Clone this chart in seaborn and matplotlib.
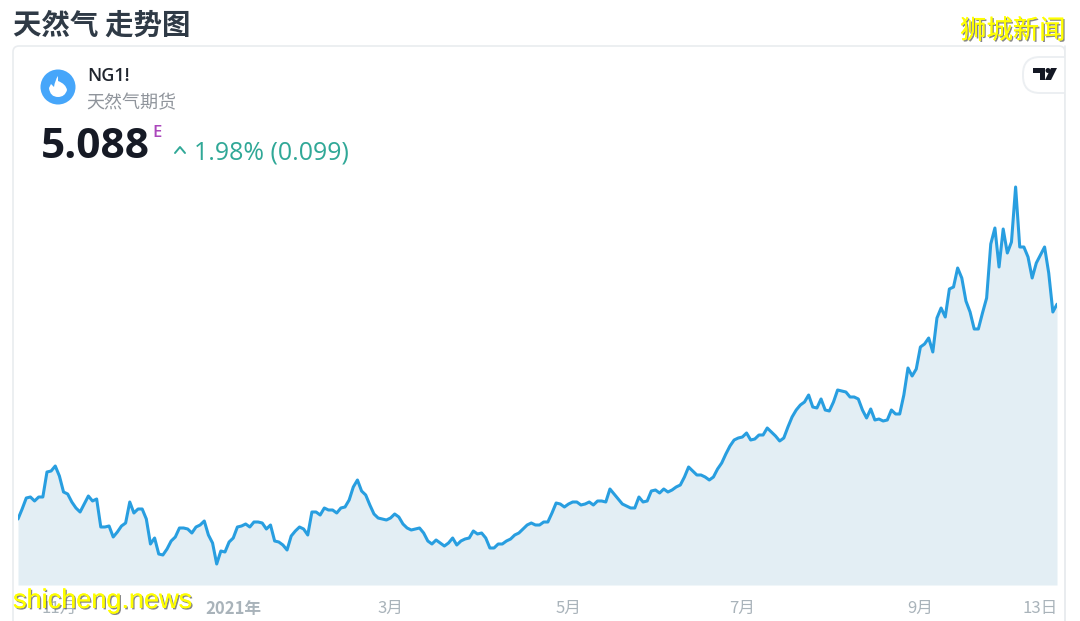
import matplotlib
matplotlib.use("Agg")

import matplotlib.pyplot as plt
import matplotlib.patheffects as pe
import numpy as np
import pandas as pd
import seaborn as sns
from matplotlib.patches import Circle, FancyBboxPatch, Polygon, PathPatch
from matplotlib.path import Path

prices = [
    2.94, 3.04, 3.15, 3.16, 3.12, 3.16, 3.16, 3.41, 3.42, 3.47,
    3.37, 3.21, 3.19, 3.11, 3.05, 3.01, 3.09, 3.17, 3.12, 3.14,
    2.86, 2.86, 2.87, 2.76, 2.81, 2.87, 2.90, 3.11, 3.00, 3.04,
    3.04, 2.94, 2.69, 2.75, 2.59, 2.58, 2.64, 2.72, 2.76, 2.85,
    2.85, 2.84, 2.80, 2.86, 2.88, 2.92, 2.78, 2.70, 2.49, 2.62,
    2.61, 2.71, 2.75, 2.86, 2.87, 2.89, 2.86, 2.91, 2.91, 2.90,
    2.84, 2.88, 2.72, 2.71, 2.68, 2.63, 2.77, 2.82, 2.86, 2.84,
    2.78, 3.01, 3.01, 2.98, 3.05, 3.03, 3.03, 3.00, 3.05, 3.06,
    3.13, 3.26, 3.33, 3.22, 3.18, 3.08, 2.99, 2.95, 2.94, 2.93,
    2.95, 2.99, 2.96, 2.89, 2.85, 2.83, 2.84, 2.85, 2.80, 2.72,
    2.69, 2.73, 2.70, 2.67, 2.70, 2.75, 2.68, 2.72, 2.74, 2.75,
    2.82, 2.79, 2.80, 2.75, 2.65, 2.65, 2.69, 2.69, 2.72, 2.74,
    2.78, 2.80, 2.84, 2.88, 2.90, 2.88, 2.88, 2.91, 2.91, 3.00,
    3.10, 3.09, 3.06, 3.09, 3.11, 3.11, 3.08, 3.09, 3.11, 3.08,
    3.12, 3.12, 3.11, 3.24, 3.19, 3.14, 3.09, 3.07, 3.05, 3.05,
    3.16, 3.11, 3.12, 3.22, 3.23, 3.20, 3.24, 3.21, 3.23, 3.26,
    3.28, 3.36, 3.46, 3.42, 3.38, 3.38, 3.36, 3.33, 3.36, 3.44,
    3.50, 3.59, 3.67, 3.73, 3.75, 3.76, 3.80, 3.73, 3.74, 3.78,
    3.78, 3.85, 3.81, 3.77, 3.72, 3.75, 3.86, 3.96, 4.03, 4.08,
    4.11, 4.18, 4.06, 4.05, 4.14, 4.03, 4.02, 4.11, 4.23, 4.22,
    4.21, 4.16, 4.16, 4.14, 4.03, 3.95, 4.04, 3.93, 3.94, 3.92,
    3.93, 4.03, 3.99, 3.99, 4.18, 4.45, 4.37, 4.44, 4.66, 4.69,
    4.75, 4.61, 4.95, 5.05, 4.96, 5.24, 5.26, 5.45, 5.35, 5.12,
    5.01, 4.84, 4.84, 5.00, 5.15, 5.69, 5.85, 5.46, 5.84, 5.60,
    5.71, 6.26, 5.66, 5.66, 5.56, 5.35, 5.50, 5.58, 5.66, 5.40,
    5.01, 5.088,
]
tick_sessions = [10, 52, 90, 133, 175, 218, 247]
tick_labels = ["11月", "2021年", "3月", "5月", "7月", "9月", "13日"]

LINE = "#289ee0"
FILL = "#e3eef4"
GREY = "#a9b3ba"
TEAL = "#30a897"

sns.set_theme(style="white")
plt.rcParams["font.family"] = ["Noto Sans CJK SC", "DejaVu Sans"]

df = pd.DataFrame({"session": np.arange(len(prices)), "price": prices})

fig = plt.figure(figsize=(10.8, 6.21), dpi=100, facecolor="white")

# overlay in pixel coordinates for the card and header
bg = fig.add_axes([0, 0, 1, 1], zorder=0)
bg.set_xlim(0, 1080)
bg.set_ylim(621, 0)
bg.axis("off")
bg.add_patch(FancyBboxPatch((13, 46), 1052, 600, boxstyle="round,pad=0,rounding_size=6",
                            fc="white", ec="#e9ecef", lw=1.2))

# chart
ax = fig.add_axes([18 / 1080, 36 / 621, 1039 / 1080, 415 / 621], zorder=1)
ax.patch.set_alpha(0)
ax.fill_between(df["session"], df["price"], 2.28, color=FILL, lw=0)
sns.lineplot(data=df, x="session", y="price", ax=ax, color=LINE, linewidth=2.2)
ax.set_xlim(0, len(prices) - 1)
ax.set_ylim(2.28, 6.43)
ax.set_xlabel("")
ax.set_ylabel("")
ax.set_yticks([])
ax.set_xticks(tick_sessions)
ax.set_xticklabels(tick_labels, color=GREY, fontsize=12)
ax.get_xticklabels()[1].set_fontweight("bold")
ax.tick_params(axis="x", length=0, pad=10.5)
sns.despine(ax=ax, left=True, bottom=True)

# header texts
top = fig.add_axes([0, 0, 1, 1], zorder=2)
top.set_xlim(0, 1080)
top.set_ylim(621, 0)
top.axis("off")
top.patch.set_alpha(0)

top.text(13, 26, "天然气 走势图", fontsize=20.5, fontweight="bold", color="#2f3a46", va="center")
top.text(87, 76, "NG1!", fontsize=13, fontweight="semibold", color="#20252e", va="center",
         family=["Open Sans", "DejaVu Sans"])
top.text(86, 103, "天然气期货", fontsize=13, color="#8f949b", va="center", fontweight="light")
top.text(41, 148, "5.088", fontsize=30.5, fontweight="bold", color="#161a25", va="center",
         family=["Open Sans", "DejaVu Sans"])
top.text(152, 133, "E", fontsize=12, color="#ab47bc", va="center", fontweight="semibold",
         family=["Open Sans", "DejaVu Sans"])
top.text(194, 153, "1.98% (0.099)", fontsize=17.9, color=TEAL, va="center",
         family=["Open Sans", "DejaVu Sans"])
top.plot([175, 180, 185], [153, 147, 153], color=TEAL, lw=1.4)

# flame icon
top.add_patch(Circle((58, 87), 17.5, fc="#46a6fa", ec="none"))
flame = Path(
    [(58, 97), (50, 97), (49, 88), (51, 84), (53, 86), (54, 87), (55, 80), (58, 76), (58, 81),
     (66, 84), (67, 90), (65, 97), (58, 97)],
    [Path.MOVETO, Path.CURVE3, Path.CURVE3, Path.LINETO, Path.CURVE3, Path.CURVE3, Path.CURVE3,
     Path.CURVE3, Path.LINETO, Path.CURVE3, Path.CURVE3, Path.CURVE3, Path.CURVE3],
)
top.add_patch(PathPatch(flame, fc="white", ec="none"))

# TradingView badge
top.add_patch(FancyBboxPatch((1023, 57), 60, 36, boxstyle="round,pad=0,rounding_size=17",
                             fc="white", ec="#eceff2", lw=1.4))
top.add_patch(Polygon([(1033, 68), (1045, 68), (1045, 80), (1040, 80), (1040, 73), (1033, 73)],
                      fc="#141824", ec="none"))
top.add_patch(Circle((1048, 70.5), 2.5, fc="#141824", ec="none"))
top.add_patch(Polygon([(1051, 68), (1057, 68), (1051, 80), (1045, 80)], fc="#141824", ec="none"))
top.add_patch(FancyBboxPatch((1065, 40), 15, 70, boxstyle="square,pad=0", fc="white", ec="none"))
top.plot([1065, 1065], [46, 621], color="#e9ecef", lw=1.2)

# watermarks
shadow = [pe.withSimplePatchShadow(offset=(1, -1), shadow_rgbFace="#555555", alpha=0.7), pe.Normal()]
top.text(960, 31, "狮城新闻", fontsize=19, color="#ffff00", va="center", fontweight="light",
         path_effects=shadow)
top.text(13, 601, "shicheng.news", fontsize=19.5, color="#ffff00", va="center",
         family=["Liberation Sans", "DejaVu Sans"], path_effects=shadow)

fig.savefig("out.png", dpi=100)
plt.close(fig)
